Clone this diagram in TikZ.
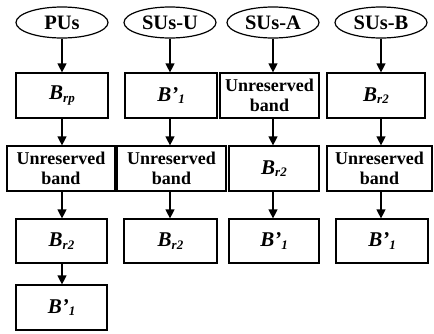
\documentclass[tikz,border=0pt]{standalone}
\usepackage{fontspec}
\setmainfont{Liberation Serif}
\usetikzlibrary{shapes.geometric,arrows.meta}

% bold italic symbol with a bold italic subscript
\newcommand{\bsym}[2]{{\fontsize{21}{22}\selectfont\textbf{\textit{#1}}}\raisebox{-0.3ex}{\fontsize{13}{13}\selectfont\textbf{\textit{#2}}}}

\begin{document}
\begin{tikzpicture}[x=1pt,y=-1pt,
  user/.style={draw, ellipse, line width=1.2pt, minimum width=92pt, minimum height=31pt,
    inner sep=0pt, font=\fontsize{20.5}{22}\selectfont\bfseries},
  band/.style={draw, rectangle, line width=1.2pt, inner sep=0pt, align=center,
    font=\fontsize{18}{20}\selectfont\bfseries},
  flow/.style={line width=1.2pt, -{Triangle[length=9pt,width=9pt]}}]
\useasboundingbox (0,0) rectangle (434,333);

% user classes
\node[user] (pu) at (62,22.5)  {PUs};
\node[user] (su) at (170,22.5) {SUs-U};
\node[user] (sa) at (273,22.5) {SUs-A};
\node[user] (sb) at (381,22.5) {SUs-B};

% PUs column
\node[band, minimum width=92pt,  minimum height=45pt] (p1) at (62,95.5)  {\bsym{B}{rp}};
\node[band, minimum width=108pt, minimum height=45pt] (p2) at (61,168.5) {Unreserved\\band};
\node[band, minimum width=91pt,  minimum height=44pt] (p3) at (61.5,241) {\bsym{B}{r2}};
\node[band, minimum width=91pt,  minimum height=45pt] (p4) at (61.5,307.5) {\bsym{B’}{1}};

% SUs-U column
\node[band, minimum width=92pt,  minimum height=45pt] (u1) at (171,95.5)  {\bsym{B’}{1}};
\node[band, minimum width=109pt, minimum height=45pt] (u2) at (171.5,168.5) {Unreserved\\band};
\node[band, minimum width=93pt,  minimum height=44pt] (u3) at (170.5,241) {\bsym{B}{r2}};

% SUs-A column
\node[band, minimum width=99pt, minimum height=45pt] (a1) at (269.5,95.5) {Unreserved\\band};
\node[band, minimum width=90pt, minimum height=45pt] (a2) at (274,168.5)  {\bsym{B}{r2}};
\node[band, minimum width=90pt, minimum height=44pt] (a3) at (274,241)    {\bsym{B’}{1}};

% SUs-B column
\node[band, minimum width=98pt,  minimum height=45pt] (b1) at (376,95.5)   {\bsym{B}{r2}};
\node[band, minimum width=105pt, minimum height=45pt] (b2) at (379.5,168.5) {Unreserved\\band};
\node[band, minimum width=92pt,  minimum height=44pt] (b3) at (382,241)     {\bsym{B’}{1}};

% connectors
\draw[flow] (pu.south) -- (pu.south |- p1.north);
\draw[flow] (p1.south -| pu.south) -- (p2.north -| pu.south);
\draw[flow] (p2.south -| pu.south) -- (p3.north -| pu.south);
\draw[flow] (p3.south -| pu.south) -- (p4.north -| pu.south);

\draw[flow] (su.south) -- (su.south |- u1.north);
\draw[flow] (u1.south -| su.south) -- (u2.north -| su.south);
\draw[flow] (u2.south -| su.south) -- (u3.north -| su.south);

\draw[flow] (sa.south) -- (sa.south |- a1.north);
\draw[flow] (a1.south -| sa.south) -- (a2.north -| sa.south);
\draw[flow] (a2.south -| sa.south) -- (a3.north -| sa.south);

\draw[flow] (sb.south) -- (sb.south |- b1.north);
\draw[flow] (b1.south -| sb.south) -- (b2.north -| sb.south);
\draw[flow] (b2.south -| sb.south) -- (b3.north -| sb.south);
\end{tikzpicture}
\end{document}
